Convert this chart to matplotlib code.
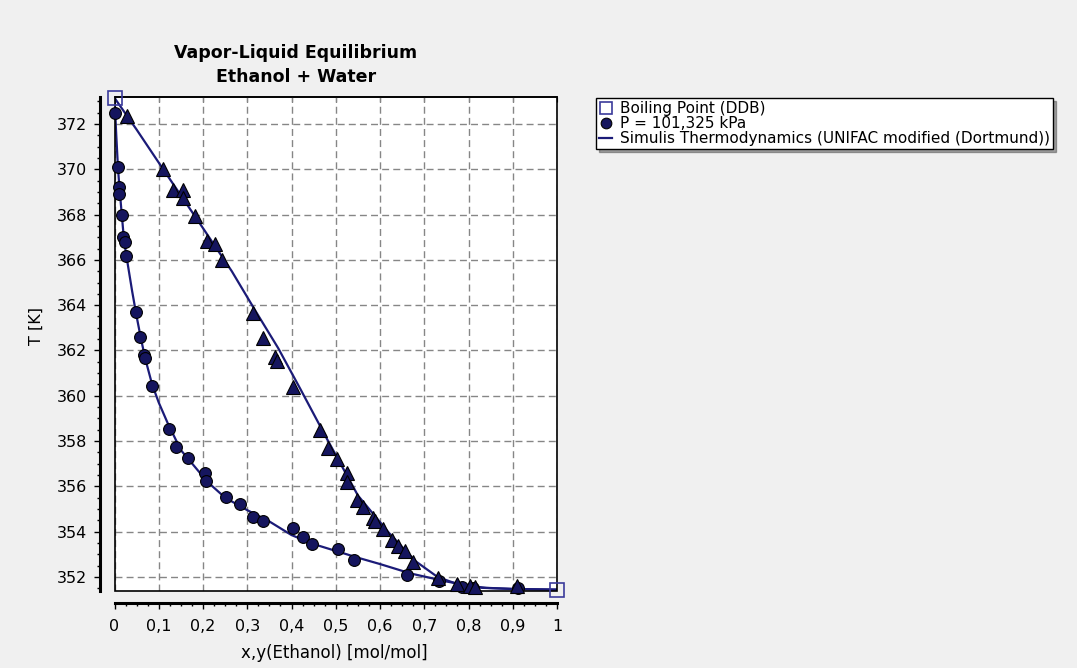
import matplotlib.pyplot as plt
from matplotlib.patches import Rectangle
from matplotlib.lines import Line2D
from matplotlib.ticker import MultipleLocator, FixedLocator, FixedFormatter

# boiling points of the pure components (DDB)
x_bp = [0.0, 1.0]
T_bp = [373.15, 351.44]

# liquid phase measurements, P = 101,325 kPa
x_liq = [0.0, 0.007, 0.011, 0.011, 0.016, 0.020, 0.023, 0.027, 0.048, 0.057, 0.066, 0.068,
         0.084, 0.124, 0.138, 0.167, 0.204, 0.206, 0.251, 0.283, 0.314, 0.335, 0.403, 0.425,
         0.446, 0.505, 0.541, 0.661, 0.733, 0.785, 0.81, 0.912]
T_liq = [372.5, 370.1, 369.2, 368.9, 368.0, 367.0, 366.8, 366.15, 363.7, 362.6, 361.8, 361.65,
         360.45, 358.55, 357.75, 357.25, 356.6, 356.25, 355.55, 355.2, 354.65, 354.45, 354.15, 353.75,
         353.45, 353.25, 352.75, 352.08, 351.8, 351.55, 351.5, 351.5]

# vapor phase measurements
x_vap = [0.029, 0.109, 0.133, 0.154, 0.154, 0.181, 0.210, 0.226, 0.244, 0.312, 0.335, 0.362,
         0.368, 0.403, 0.464, 0.482, 0.502, 0.525, 0.525, 0.548, 0.561, 0.584, 0.588, 0.606,
         0.627, 0.640, 0.656, 0.674, 0.731, 0.774, 0.803, 0.815, 0.91]
T_vap = [372.35, 370.0, 369.1, 369.1, 368.75, 367.95, 366.85, 366.7, 366.0, 363.65, 362.55, 361.7,
         361.55, 360.4, 358.5, 357.7, 357.2, 356.6, 356.2, 355.4, 355.1, 354.6, 354.45, 354.1,
         353.65, 353.35, 353.15, 352.65, 351.95, 351.7, 351.62, 351.55, 351.58]

# model curves (UNIFAC modified Dortmund)
x_bub = [0.0, 0.004, 0.008, 0.012, 0.016, 0.02, 0.025, 0.03, 0.04, 0.05, 0.06, 0.07, 0.085,
         0.1, 0.12, 0.15, 0.18, 0.21, 0.25, 0.3, 0.35, 0.4, 0.45, 0.5, 0.55, 0.6, 0.67,
         0.75, 0.83, 0.9, 1.0]
T_bub = [373.15, 371.5, 370.0, 369.0, 368.1, 367.2, 366.4, 365.8, 364.6, 363.5, 362.5, 361.6, 360.5,
         359.7, 358.8, 357.6, 356.9, 356.2, 355.5, 354.95, 354.45, 353.85, 353.45, 353.15, 352.85, 352.57, 352.15,
         351.8, 351.52, 351.47, 351.44]
x_dew = [0.0, 0.05, 0.11, 0.2, 0.265, 0.32, 0.37, 0.42, 0.48, 0.55, 0.62, 0.68, 0.73, 0.78, 0.84, 0.9, 1.0]
T_dew = [373.15, 371.75, 370.0, 367.4, 365.5, 363.7, 362.1, 360.3, 358.1, 355.6, 353.95, 352.7,
         352.0, 351.65, 351.52, 351.47, 351.44]

x_ticks = [0.0, 0.1, 0.2, 0.3, 0.4, 0.5, 0.6, 0.7, 0.8, 0.9, 1.0]
x_tick_labels = ['0', '0,1', '0,2', '0,3', '0,4', '0,5', '0,6', '0,7', '0,8', '0,9', '1']
y_ticks = [352, 354, 356, 358, 360, 362, 364, 366, 368, 370, 372]

navy = '#1b1b78'
marker_fill = '#15155e'
W, H = 1077, 668

fig = plt.figure(figsize=(10.77, 6.68), dpi=100, facecolor='#f0f0f0')
ax = fig.add_axes([114.5 / W, 1 - 591 / H, 442.5 / W, 494 / H])
ax.set_facecolor('white')

ax.plot(x_bub, T_bub, color=navy, lw=1.6, zorder=3)
ax.plot(x_dew, T_dew, color=navy, lw=1.6, zorder=3)
liq, = ax.plot(x_liq, T_liq, 'o', ms=8.5, mfc=marker_fill, mec='black', mew=0.8,
               zorder=4, clip_on=False)
ax.plot(x_vap, T_vap, '^', ms=9.5, mfc=marker_fill, mec='black', mew=0.8, zorder=4, clip_on=False)
bp, = ax.plot(x_bp, T_bp, 's', ms=10, mfc='none', mec='#3b3b9b', mew=1.2, zorder=7, clip_on=False)

ax.set_xlim(0, 1)
ax.set_ylim(351.38, 373.19)

# axes drawn apart from the plot frame
for side in ['top', 'right']:
    ax.spines[side].set_visible(False)
ax.spines['left'].set_position(('outward', 10.2))
ax.spines['bottom'].set_position(('outward', 8.7))
ax.spines['left'].set_linewidth(2.2)
ax.spines['bottom'].set_linewidth(2.2)
ax.add_patch(Rectangle((0, 0), 1, 1, transform=ax.transAxes, fill=False,
                       ec='black', lw=1.2, zorder=3.5, clip_on=False))

ax.xaxis.set_major_locator(FixedLocator(x_ticks))
ax.xaxis.set_major_formatter(FixedFormatter(x_tick_labels))
ax.xaxis.set_minor_locator(MultipleLocator(0.025))
ax.yaxis.set_major_locator(FixedLocator(y_ticks))
ax.yaxis.set_minor_locator(MultipleLocator(0.5))
ax.tick_params(which='major', length=4.3, width=1, labelsize=11.5, colors='black')
ax.tick_params(which='minor', length=2.5, width=1)
ax.tick_params(axis='x', which='major', pad=7)
ax.tick_params(axis='y', which='major', pad=5.5)

ax.grid(True, which='major', color='#868686', linestyle=(0, (5, 3)), linewidth=1)
ax.set_axisbelow(True)

top = ax.secondary_xaxis('top')
top.xaxis.set_major_locator(FixedLocator(x_ticks))
top.tick_params(direction='in', length=3.5, labeltop=False)
top.spines['top'].set_linewidth(1.2)

title_x = 296 / W
fig.text(title_x, 1 - 58.5 / H, 'Vapor-Liquid Equilibrium', ha='center', va='baseline',
         fontweight='bold', fontsize=12.5)
fig.text(title_x, 1 - 81.5 / H, 'Ethanol + Water', ha='center', va='baseline',
         fontweight='bold', fontsize=12.5)
fig.text(36 / W, 1 - 326 / H, 'T [K]', rotation=90, ha='center', va='center', fontsize=11.5)
fig.text(334 / W, 1 - 653 / H, 'x,y(Ethanol) [mol/mol]', ha='center', va='center', fontsize=12)

leg_line = Line2D([], [], color=navy, lw=1.6)
ax.legend([bp, liq, leg_line],
          ['Boiling Point (DDB)', 'P = 101,325 kPa',
           'Simulis Thermodynamics (UNIFAC modified (Dortmund))'],
          loc='upper left', bbox_to_anchor=(596 / W, 1 - 98 / H),
          bbox_transform=fig.transFigure, borderaxespad=0, frameon=True,
          fancybox=False, shadow=True, edgecolor='black', framealpha=1,
          fontsize=11, borderpad=0.2, labelspacing=0.0, handlelength=0.85,
          handletextpad=0.5, markerscale=0.9)

fig.savefig('out.png', dpi=100, facecolor=fig.get_facecolor())
